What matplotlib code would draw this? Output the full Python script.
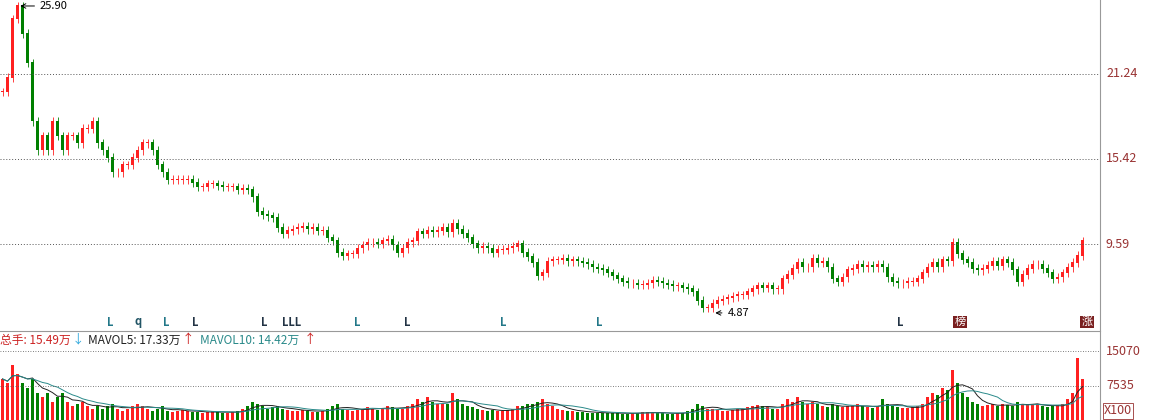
import matplotlib
matplotlib.use("Agg")
import matplotlib.pyplot as plt
import numpy as np
import pandas as pd

plt.rcParams['font.family'] = ['Noto Sans CJK SC', 'DejaVu Sans']

closes = [20,21,25,25.9,24,22,18,16,17,16,18,17,16,17,17,16.5,17.5,17.5,18,16.5,
16,15.5,14.5,14.5,15,15,15.5,16,16.5,16.5,16,15,14.5,14,14,14,14,14,13.8,13.5,
13.5,13.7,13.7,13.6,13.5,13.5,13.5,13.3,13.4,13.3,12.8,11.8,11.6,11.5,11.4,10.7,10.3,10.5,10.6,10.7,
10.8,10.6,10.7,10.5,10.5,10.0,9.8,9.0,8.8,8.9,8.9,9.3,9.5,9.7,9.7,9.6,9.8,9.9,9.5,9.0,
9.3,9.7,9.8,10.4,10.3,10.5,10.4,10.5,10.7,10.4,11.0,10.6,10.3,10.0,9.6,9.3,9.4,9.3,9.0,9.2,
9.2,9.3,9.4,9.6,9.0,8.7,8.3,7.4,7.6,8.4,8.5,8.5,8.6,8.4,8.5,8.4,8.3,8.2,8.0,7.9,
7.8,7.6,7.4,7.2,7.0,6.9,6.9,6.8,6.8,6.9,7.1,7.0,6.9,6.8,6.7,6.7,6.6,6.5,6.3,5.7,
5.2,5.2,5.5,5.7,5.8,5.9,6.0,6.1,6.1,6.3,6.5,6.7,6.6,6.7,6.5,6.5,7.2,7.5,7.9,8.3,
8.0,8.0,8.6,8.3,8.4,8.0,7.2,7.0,7.3,7.8,7.9,8.2,8.0,8.1,8.0,8.2,8.0,7.3,7.0,6.9,
6.9,7.0,7.0,7.2,7.6,8.0,8.3,8.0,8.5,8.4,9.7,8.9,8.5,8.3,7.9,7.8,7.9,8.1,8.4,8.1,
8.5,8.3,7.8,7.0,7.5,7.9,8.2,8.2,7.9,7.6,7.2,7.3,7.6,8.0,8.3,8.8,9.8]

volumes = [9000,8000,12000,10000,8000,7000,9000,6000,5000,6000,
4000,5000,6000,4000,3000,3500,4000,3000,2500,3000,
2500,3000,3500,2500,2000,2500,3000,3500,3000,2500,
2000,2500,3000,2000,1800,2000,2200,2000,1800,1700,
1500,1800,2000,1700,1600,1500,1800,2000,2500,3000,
4000,3500,3000,2500,2800,3000,2500,2200,2000,2000,
2200,2000,1800,1800,2000,2500,3000,3500,2500,2200,
2000,2200,2500,2800,2500,2200,2500,3000,2800,2500,
2500,3000,3500,4500,4000,5000,4000,3500,3500,3500,
6000,4500,3500,3000,2800,2500,2200,2000,2200,2000,
2000,2200,2500,3000,3000,3500,3500,4000,4500,3500,
3000,2500,2200,2000,2000,1800,1800,1600,1600,1500,
1500,1600,1500,1500,1400,1400,1500,1600,1800,1700,
1600,1500,1500,1400,1400,1500,1600,2000,2500,3500,
3000,2500,2500,2200,2000,2000,2200,2500,2500,2800,
3000,3200,3000,2800,2500,2500,3500,4500,4000,5000,
4000,3500,4000,3500,3000,2800,3500,3000,2800,3000,
3000,3500,3000,2800,2600,3000,4500,3500,3000,2800,
2600,2600,2800,3000,3500,5000,6000,5500,7000,6500,
11000,8000,6000,5000,4000,3500,3000,3200,3500,3000,
3500,3200,3000,4000,3500,3200,3500,3500,3000,2800,
3000,3200,3500,4500,6000,13500,9000]

n = len(closes)
x = np.arange(n)
opens = [closes[0]] + closes[:-1]
up = np.array(closes) >= np.array(opens)
red, green = '#ff2020', '#008000'
cols = [red if u else green for u in up]

W, H = 1155, 420
fig = plt.figure(figsize=(W/100, H/100), dpi=100)
ax = fig.add_axes([0, 1-330/H, 1100/W, 330/H])
ax.set_xlim(-0.5, 1100/5 - 0.5)
ax.set_ylim(3.7, 26.31)
lo = np.minimum(opens, closes); hi = np.maximum(opens, closes)
ax.vlines(x, lo - 0.3, hi + 0.3, colors=cols, lw=0.6)
ax.bar(x, hi - lo + 0.05, bottom=lo, width=0.45, color=cols, linewidth=0)
for yv in [21.24, 15.42, 9.59]:
    ax.axhline(yv, color='#555555', lw=0.7, ls=(0, (1, 2)))
    fig.text(1106/W, 1-(330 - (yv-3.7)/(26.31-3.7)*330)/H, f"{yv:.2f}", color='#993333', fontsize=9, va='center')
ax.set_xticks([]); ax.set_yticks([])
for s in ax.spines.values(): s.set_visible(False)
ax.annotate("25.90", xy=(3, 25.9), xytext=(7.5, 25.9), fontsize=8, va='center',
            arrowprops=dict(arrowstyle='->', color='black', lw=0.7))
ax.annotate("4.87", xy=(142, 4.87), xytext=(145, 4.87), fontsize=8, va='center',
            arrowprops=dict(arrowstyle='->', color='black', lw=0.7))

marks = [(110,'L','#227788'),(138,'q','#225566'),(166,'L','#227788'),(195,'L','#223344'),
         (264,'L','#223344'),(292,'LLL','#223344'),(357,'L','#227788'),(407,'L','#223344'),
         (503,'L','#227788'),(599,'L','#227788'),(900,'L','#223344')]
for px, t, c in marks:
    fig.text(px/W, 1-322/H, t, color=c, fontsize=8, fontweight='bold', ha='center', va='center')
for px, t in [(960, '榜'), (1087, '涨')]:
    fig.text(px/W, 1-322/H, t, color='white', fontsize=8, ha='center', va='center',
             bbox=dict(boxstyle='square,pad=0.1', fc='#7a2020', ec='none'))

fig.add_artist(plt.Line2D([0, 1100/W], [1-331/H]*2, color='#999999', lw=0.8))
fig.add_artist(plt.Line2D([1100/W]*2, [0, 1], color='#999999', lw=0.8))

vol = np.array(volumes)
vs = pd.Series(vol)
ma5 = vs.rolling(5, min_periods=1).mean()
ma10 = vs.rolling(10, min_periods=1).mean()
vax = fig.add_axes([0, 0, 1100/W, 85/H])
vax.set_xlim(-0.5, 1100/5 - 0.5)
vmax = 84/34*7535
vax.set_ylim(0, vmax)
vax.bar(x, vol, width=0.5, color=cols, linewidth=0)
vax.plot(x, ma5, color='#222222', lw=0.7)
vax.plot(x, ma10, color='#2a8a8a', lw=0.7)
vax.set_xticks([]); vax.set_yticks([])
for s in vax.spines.values(): s.set_visible(False)
for yv, lab in [(15070, '15070'), (7535, '7535')]:
    vax.axhline(yv, color='#555555', lw=0.6, ls=(0, (1, 2)))
    fig.text(1106/W, yv/vmax*85/H, lab, color='#993333', fontsize=9, va='center')
fig.text(1104/W, 9/H, 'X100', color='#993333', fontsize=9, va='center',
         bbox=dict(boxstyle='square,pad=0.1', fc='white', ec='#993333', lw=0.6))

fig.text(0, 1-340/H, '总手: 15.49万', color='#cc2222', fontsize=8.5, va='center')
fig.text(72/W, 1-340/H, '↓', color='#33aadd', fontsize=9, va='center')
fig.text(88/W, 1-340/H, 'MAVOL5: 17.33万', color='#222222', fontsize=8.5, va='center')
fig.text(182/W, 1-340/H, '↑', color='#cc2222', fontsize=9, va='center')
fig.text(200/W, 1-340/H, 'MAVOL10: 14.42万', color='#2a8a8a', fontsize=8.5, va='center')
fig.text(304/W, 1-340/H, '↑', color='#cc2222', fontsize=9, va='center')

fig.savefig('out.png', dpi=100, facecolor='white')
